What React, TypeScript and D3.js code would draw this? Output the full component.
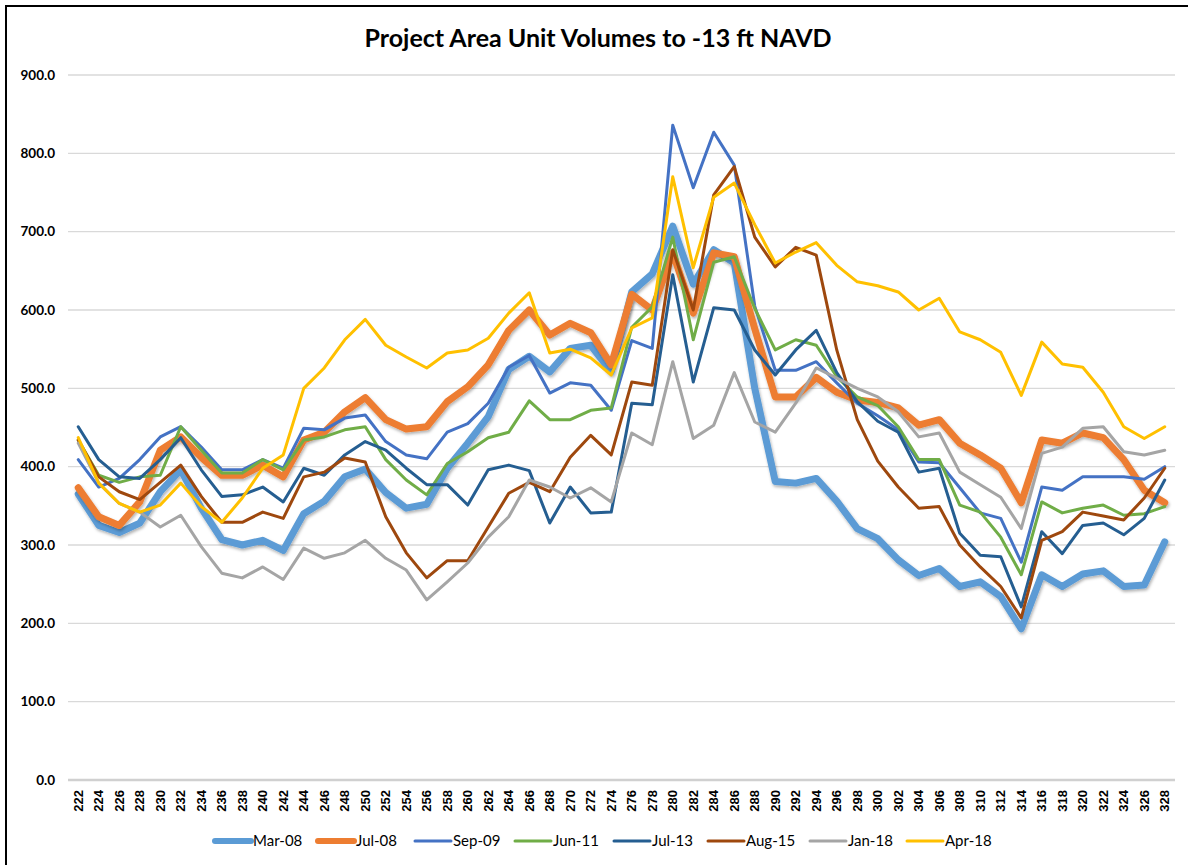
import React, { useEffect, useRef } from 'react';
import * as d3 from 'd3';

const stations = [
  '222', '224', '226', '228', '230', '232', '234', '236', '238', '240',
  '242', '244', '246', '248', '250', '252', '254', '256', '258', '260',
  '262', '264', '266', '268', '270', '272', '274', '276', '278', '280',
  '282', '284', '286', '288', '290', '292', '294', '296', '298', '300',
  '302', '304', '306', '308', '310', '312', '314', '316', '318', '320',
  '322', '324', '326', '328',
];

const mar08 = [365, 325, 316, 328, 368, 396, 347, 307, 300, 306, 293, 340, 356, 387, 397, 367, 347, 352, 398, 430, 464, 524, 541, 521, 551, 555, 521, 623, 646, 707, 633, 677, 660, 500, 381, 379, 385, 356, 321, 308, 281, 261, 270, 247, 253, 234, 193, 262, 247, 263, 267, 247, 249, 304];
const jul08 = [373, 336, 325, 355, 421, 438, 412, 389, 389, 402, 387, 434, 444, 470, 488, 460, 448, 451, 483, 502, 530, 574, 600, 568, 583, 571, 530, 620, 600, 673, 596, 673, 668, 576, 489, 489, 514, 495, 485, 482, 475, 453, 460, 430, 415, 398, 354, 434, 430, 443, 437, 409, 370, 354];
const sep09 = [409, 374, 385, 409, 438, 451, 425, 396, 396, 409, 398, 449, 447, 462, 466, 432, 415, 410, 444, 455, 481, 527, 542, 494, 507, 504, 472, 561, 551, 836, 756, 827, 785, 605, 523, 523, 534, 507, 481, 465, 447, 406, 405, 373, 341, 334, 278, 374, 370, 387, 387, 387, 384, 400];
const jun11 = [434, 389, 380, 387, 389, 451, 421, 392, 392, 409, 396, 434, 438, 447, 451, 409, 383, 364, 404, 419, 437, 444, 484, 460, 460, 472, 475, 578, 604, 693, 562, 661, 668, 602, 549, 562, 555, 515, 489, 478, 451, 409, 409, 351, 342, 310, 262, 355, 341, 347, 351, 338, 340, 349];
const jul13 = [451, 409, 387, 385, 409, 437, 396, 362, 364, 374, 355, 398, 389, 415, 432, 421, 398, 377, 377, 351, 396, 402, 395, 328, 374, 341, 342, 481, 479, 645, 508, 603, 600, 549, 517, 549, 574, 520, 483, 458, 444, 393, 398, 315, 287, 285, 221, 317, 289, 325, 328, 313, 334, 383];
const aug15 = [434, 387, 368, 358, 380, 402, 362, 329, 329, 342, 334, 387, 393, 411, 406, 336, 290, 258, 280, 280, 323, 366, 380, 368, 412, 440, 415, 508, 504, 677, 600, 747, 783, 693, 655, 680, 670, 549, 460, 407, 374, 347, 349, 300, 272, 247, 207, 306, 317, 342, 337, 332, 360, 398];
const jan18 = [430, 379, 353, 342, 323, 338, 298, 264, 258, 272, 256, 296, 283, 290, 306, 283, 268, 230, 253, 277, 310, 336, 383, 374, 360, 373, 355, 443, 428, 534, 436, 453, 520, 457, 444, 481, 526, 513, 500, 489, 470, 438, 443, 393, 377, 361, 321, 417, 425, 449, 451, 419, 415, 421];
const apr18 = [437, 379, 353, 342, 351, 379, 349, 329, 360, 398, 415, 500, 526, 562, 588, 555, 540, 526, 545, 549, 564, 596, 622, 545, 550, 539, 517, 577, 590, 770, 654, 744, 762, 709, 660, 674, 686, 657, 636, 631, 623, 600, 615, 572, 562, 546, 491, 559, 531, 527, 495, 451, 436, 451];

const seriesNames = ['Mar-08', 'Jul-08', 'Sep-09', 'Jun-11', 'Jul-13', 'Aug-15', 'Jan-18', 'Apr-18'];
const seriesValues = [mar08, jul08, sep09, jun11, jul13, aug15, jan18, apr18];
const seriesColors = ['#5B9BD5', '#ED7D31', '#4472C4', '#70AD47', '#255E91', '#9E480E', '#A5A5A5', '#FFC000'];
const yTicks = [0, 100, 200, 300, 400, 500, 600, 700, 800, 900];

export default function App() {
  const svgRef = useRef<SVGSVGElement>(null);

  useEffect(() => {
    const width = 1188;
    const height = 865;
    const plot = { left: 68, right: 1175, top: 75, bottom: 780 };

    const svg = d3.select(svgRef.current);
    svg.selectAll('*').remove();

    // drop shadow for the two heavy series
    const defs = svg.append('defs');
    const shadow = defs.append('filter').attr('id', 'shadow')
      .attr('x', '-5%').attr('y', '-5%').attr('width', '110%').attr('height', '120%');
    shadow.append('feDropShadow')
      .attr('dx', 1).attr('dy', 2).attr('stdDeviation', 1.5)
      .attr('flood-color', '#000').attr('flood-opacity', 0.3);

    svg.append('rect')
      .attr('width', width).attr('height', height).attr('fill', '#fff');

    // chart frame (cropped on the right and bottom)
    svg.append('rect')
      .attr('x', 6).attr('y', 6)
      .attr('width', width + 20).attr('height', height + 20)
      .attr('fill', 'none').attr('stroke', '#000').attr('stroke-width', 2);

    svg.append('text')
      .attr('x', 598).attr('y', 47)
      .attr('text-anchor', 'middle')
      .style('font-family', 'Lato, "Open Sans", sans-serif')
      .style('font-weight', 'bold')
      .style('font-size', '25px')
      .attr('fill', '#000')
      .text('Project Area Unit Volumes to -13 ft NAVD');

    const x = d3.scaleBand<string>()
      .domain(stations)
      .range([plot.left, plot.right])
      .padding(0);
    const y = d3.scaleLinear()
      .domain([0, 900])
      .range([plot.bottom, plot.top]);
    const cx = (s: string) => (x(s) as number) + x.bandwidth() / 2;

    // gridlines
    svg.append('g')
      .selectAll('line')
      .data(yTicks)
      .join('line')
      .attr('x1', plot.left).attr('x2', plot.right)
      .attr('y1', d => y(d)).attr('y2', d => y(d))
      .attr('stroke', d => (d === 0 ? '#D0D0D0' : '#D9D9D9'))
      .attr('stroke-width', d => (d === 0 ? 2.5 : 1.3));

    // y labels
    svg.append('g')
      .selectAll('text')
      .data(yTicks)
      .join('text')
      .attr('x', 55)
      .attr('y', d => y(d))
      .attr('dy', '0.35em')
      .attr('text-anchor', 'end')
      .style('font-family', 'Lato, sans-serif')
      .style('font-weight', 'bold')
      .style('font-size', '13.5px')
      .attr('fill', '#000')
      .text(d => d3.format('.1f')(d));

    // x labels, rotated
    svg.append('g')
      .selectAll('text')
      .data(stations)
      .join('text')
      .attr('transform', d => `translate(${cx(d)},${plot.bottom + 10}) rotate(-90)`)
      .attr('dy', '0.35em')
      .attr('text-anchor', 'end')
      .style('font-family', '"Liberation Sans", Arial, sans-serif')
      .style('font-weight', 'bold')
      .style('font-size', '13px')
      .attr('fill', '#000')
      .text(d => d);

    const line = d3.line<number>()
      .x((_, i) => cx(stations[i]))
      .y(d => y(d));

    seriesValues.forEach((vals, k) => {
      const heavy = k < 2;
      svg.append('path')
        .datum(vals)
        .attr('fill', 'none')
        .attr('stroke', seriesColors[k])
        .attr('stroke-width', heavy ? 7 : 3)
        .attr('stroke-linejoin', 'round')
        .attr('stroke-linecap', 'round')
        .attr('filter', heavy ? 'url(#shadow)' : null)
        .attr('d', line);
    });

    // legend
    const legendX = [215, 318, 415, 515, 614, 708, 810, 907];
    const legend = svg.append('g');
    seriesNames.forEach((name, k) => {
      const lx = legendX[k];
      legend.append('line')
        .attr('x1', lx).attr('x2', lx + 36)
        .attr('y1', 841).attr('y2', 841)
        .attr('stroke', seriesColors[k])
        .attr('stroke-width', k < 2 ? 6 : 3)
        .attr('stroke-linecap', 'round');
      legend.append('text')
        .attr('x', lx + 38)
        .attr('y', 841)
        .attr('dy', '0.35em')
        .style('font-family', 'Lato, sans-serif')
        .style('font-size', '15px')
        .attr('fill', '#000')
        .text(name);
    });
  }, []);

  return (
    <svg
      ref={svgRef}
      width={1188}
      height={865}
      style={{ position: 'absolute', left: 0, top: 0, display: 'block' }}
    />
  );
}
